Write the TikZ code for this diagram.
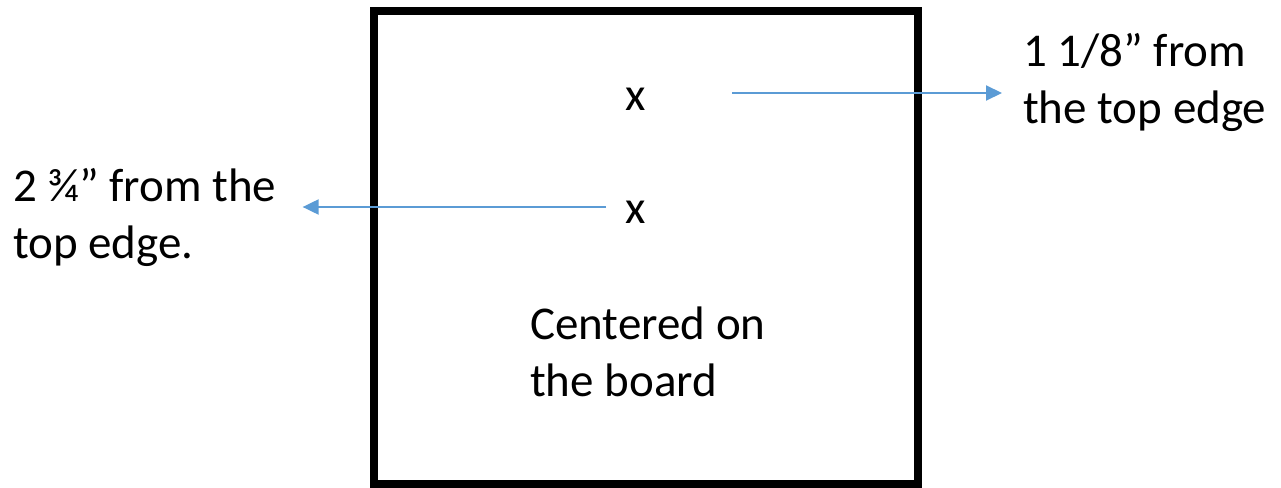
\documentclass[tikz,border=0pt]{standalone}
\usepackage{fontspec}
\setmainfont{Carlito}
\usepackage{xcolor}
\usepackage{tikz}
\usetikzlibrary{arrows.meta}
\usetikzlibrary{positioning}

\definecolor{markblue}{HTML}{5B9BD5}

\tikzset{
  board/.style={line width=8pt},
  lbl/.style={inner sep=0pt, align=left, anchor=base west,
    font=\fontsize{47}{57}\selectfont},
  pointer/.style={markblue, line width=2pt,
    -{Triangle[length=16pt, width=15pt]}}
}

\begin{document}
\begin{tikzpicture}[x=1pt, y=-1pt]

    \useasboundingbox (0, 0) rectangle (1281, 487);

    \draw [board] (374, 11) rectangle (918, 484);

    % base of a two-line label is its last line
    \node[lbl] (xtop) at (625, 110) {x};
    \node[lbl] (xlow) at (625, 223) {x};
    \node[lbl] (center) at (530, 396) {Centered on\\the board};

    \node[lbl] (toptext) at (1023, 123) {1 1/8” from\\the top edge};
    \node[lbl] (lowtext) at (13, 258) {2 ¾” from the\\top edge.};

    % free ends of the pointers
    \coordinate (topstart) at (732, 93);
    \coordinate (lowstart) at (606, 207);

    \draw [pointer, shorten >=21pt] (topstart) -- (toptext.west |- topstart);
    \draw [pointer, shorten >=26pt] (lowstart) -- (lowtext.east |- lowstart);

\end{tikzpicture}
\end{document}
